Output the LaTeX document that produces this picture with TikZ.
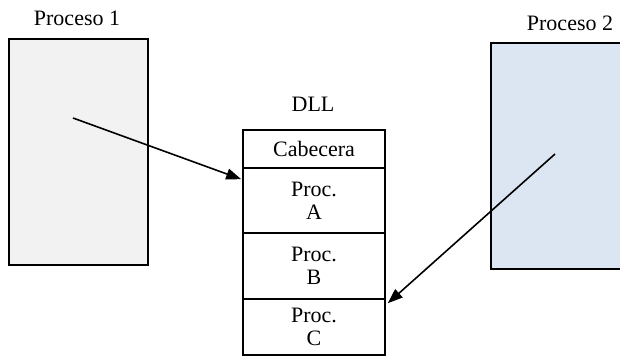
\documentclass[tikz,border=0pt]{standalone}
\usepackage{fontspec}
\setmainfont{Liberation Serif}
\usetikzlibrary{arrows.meta,calc}
\definecolor{boxgray}{HTML}{F2F2F2}
\definecolor{boxblue}{HTML}{DCE6F2}
\begin{document}
\begin{tikzpicture}[x=1pt,y=-1pt,
  procbox/.style={draw=black,line width=1.6pt,inner sep=0pt},
  cell/.style={draw=black,line width=1.6pt,fill=white,minimum width=142pt,inner sep=0pt,align=center,font=\fontsize{22}{23}\selectfont},
  lbl/.style={font=\fontsize{22}{26}\selectfont,inner sep=0pt},
  conn/.style={line width=1.6pt,-{Triangle[length=15pt,width=11pt]}}]
\useasboundingbox (0,0) rectangle (620,356);
\node[procbox,fill=boxgray,minimum width=139pt,minimum height=226pt] (p1) at (78.5,152) {};
\node[procbox,fill=boxblue,minimum width=130pt,minimum height=226pt] (p2) at (556,156) {};
\node[lbl] (l1) at (77,18) {Proceso 1};
\node[lbl] (l2) at (570,23) {Proceso 2};
\node[lbl] (ldll) at (313,104) {DLL};
\node[cell,minimum height=38pt] (cab) at (314,149) {Cabecera};
\node[cell,minimum height=65pt] (ca) at (314,200.5) {Proc.\\A};
\node[cell,minimum height=66pt] (cb) at (314,266) {Proc.\\B};
\node[cell,minimum height=56pt] (cc) at (314,327) {Proc.\\C};
\coordinate (s1) at (73,118);
\coordinate (s2) at (555,154);
\coordinate (t1) at ($(ca.north west)+(-1,12)$);
\coordinate (t2) at ($(cc.north east)+(2,5)$);
\draw[conn] (s1) -- (t1);
\draw[conn] (s2) -- (t2);
\end{tikzpicture}
\end{document}
